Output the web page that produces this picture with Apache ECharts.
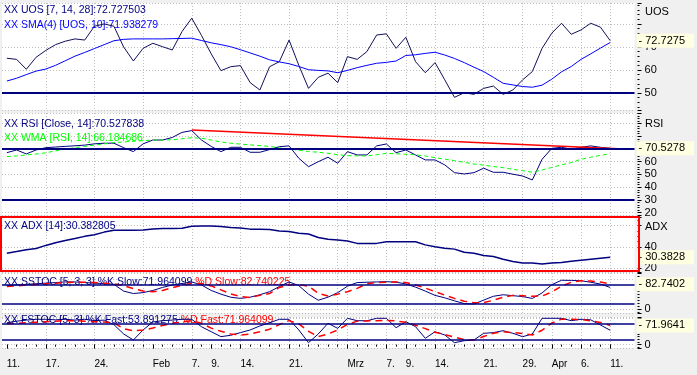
<!DOCTYPE html>
<html><head><meta charset="utf-8">
<script src="https://cdn.jsdelivr.net/npm/echarts@6/dist/echarts.min.js"></script>
<style>html,body{margin:0;padding:0;background:#f0f0f0}#c{width:697px;height:375px}</style>
</head><body><div id="c"></div><script>
const dates = ['11.01.','12.01.','13.01.','14.01.','17.01.','18.01.','19.01.','20.01.','21.01.','24.01.','25.01.','26.01.','27.01.','28.01.','31.01.','01.02.','02.02.','03.02.','04.02.','07.02.','08.02.','09.02.','10.02.','11.02.','14.02.','15.02.','16.02.','17.02.','18.02.','21.02.','22.02.','23.02.','24.02.','25.02.','28.02.','01.03.','02.03.','03.03.','04.03.','07.03.','08.03.','09.03.','10.03.','11.03.','14.03.','15.03.','16.03.','17.03.','18.03.','21.03.','22.03.','23.03.','24.03.','29.03.','30.03.','31.03.','01.04.','04.04.','05.04.','06.04.','07.04.','08.04.','11.04.'];
const padCats = [' ', '  '];
const labelIdx = [0,4,9,15,19,21,24,29,35,39,41,44,49,53,56,59,62];
const labelTxt = ['11.','17.','24.','Feb','7.','9.','14.','21.','Mrz','7.','9.','14.','21.','29.','Apr','6.','11.'];
const gridIdx = [4,9,14,19,24,29,34,35,39,41,44,49,53,56,59,62];

const uos = [65.1,64.6,60.3,65.5,68.5,71,72.5,73.5,73,79,80,79,70,63.9,69.4,71.6,70.1,68.7,76.7,82.5,75,67,59.7,61.4,61.9,54.5,51.3,61.4,63.6,73,62,52,56.8,58.6,54.5,65.8,64.6,68,75.2,75.7,69.4,74.2,63.6,58.8,63.2,55.7,48.1,50.1,49.4,52,53,49.4,51.3,55.7,59.3,69.4,76,80.3,75.5,77.4,80.3,78.6,72.727503];
const sma = [55.2,56.4,58,59.5,60.4,62,64,66,67.6,69.3,71,72.7,73.3,73.5,73.5,73.5,73.5,73.6,73.7,73.8,72.8,71.8,71,70.1,68.8,67.4,66,64.4,63.5,62.7,61.5,60.1,59.8,59.6,58.8,59.8,61,62,62.9,63.3,63.9,66.3,66.6,67.2,67.7,66.5,65,63.2,61.2,59.3,56.8,54.2,53.5,52.8,52.5,53.4,56,59.2,61.5,64.6,67,69.5,71.938279];
const rsi = [67.1,69.2,66.1,69.2,71,71.5,72,72.5,73,74,74.5,74.5,71,67.9,74,77,77,79,83,84.4,77,72,67.9,71.3,71.3,67.4,67.4,69.5,71.8,72.4,62.7,56.1,60,63.5,58.8,67.9,65.3,65.3,72.4,73.9,67.1,69.2,65.3,61.4,61.4,57.5,51.4,50.4,51.4,54.9,51.7,51.7,50.2,48.8,45.7,61.9,70.5,71.3,69.8,71.3,72.4,71.3,70.527838];
const wma = [64,64.5,65.3,66,67,68.5,69.8,71,72,73,74,75,75.5,76,76.5,77,77,77.2,78,78.8,78.4,77,75.5,74.5,73.8,73.2,72.6,72,70.8,70,69,68,67.4,66.6,65.5,64.7,64.6,64.5,65.5,66.6,66.2,65.8,65.4,64.5,63.2,62,60.8,59.5,58.2,57.3,56.2,55.3,54,53,51.7,53.5,55.5,57.5,59.3,61.9,63.5,65,66.184686];
const rsiTrendStart = [19, 84.9];
const rsiTrendEnd = [64, 69.8];
const adx = [34.2,35.8,37.5,38.6,41.5,44,46.2,48,50,51.6,54,55.7,55.7,55.8,56,57,57.3,57.4,57.6,59.5,59.7,59.7,59.2,58.3,57.8,56.8,56.7,56.5,55,54.6,53,52.2,49,47.2,46.6,45.6,43.4,43.4,43.4,44.9,44.9,44.9,44.9,42,40.3,38.8,38,35,34.2,32,31,28.5,26.4,25,24.9,24,25,25.5,26.5,27.5,28.5,29.5,30.382805];
const kSlow = [78,80,82,84,86,88,90,90,88,86,85,82,60,52,55,62,72,80,85,90,80,62,50,40,36,40,48,58,75,90,78,50,30,40,55,76,88,89,90,91,89,83.5,73,60,46,38,28,19,17.5,30.5,43,48,45,42,36,54,81,95.5,95,94,89,83,71.964099];
const dSlow = [75,77,80,82,84,86,88,89,89,88,86,84,78,68,60,58,62,71,79,85,85,77,64,51,42,39,46,52,72,80,81,76,53,44,50,58,69,84,88,89,90,88,80,70,58,47,36,27,22,22,30,40,46,45,43,44,57,76,89,94,93,90,82.740225];
const kFast = [82,88,92,95,95,93,95,92,95,90,92,75,40,17.5,55,85,90,92,95,95,67,48.5,30,35,45,55,70,82,95,95,55,7.3,40,80,61,98.7,89.8,89.5,98.7,98.7,63.5,86,67.3,23.8,48.5,36.2,7.3,14.8,17.5,42.5,45,52.3,42.5,29.8,40,98.7,98.7,98.7,89.8,95,93,73.6,53.891275];
const uosLevels = [50];
const rsiLevels = [70, 30];
const stochLevels = [80, 20];

const last = a => a[a.length - 1];
const cats = dates.concat(padCats);
const NAVY = '#000080', FONT = '"Liberation Sans", Arial, sans-serif';
const trend = cats.map(() => null);
trend[rsiTrendStart[0]] = rsiTrendStart[1];
trend[rsiTrendEnd[0]] = rsiTrendEnd[1];

const panels = [
  {top: 3, height: 107, min: 42.6, max: 89.1, step: 10, showMax: 70, minor: 5, val: last(uos)},
  {top: 113, height: 102, min: 18.2, max: 98.2, step: 10, showMax: 70, minor: 5, val: last(rsi)},
  {top: 217, height: 55, min: 16.5, max: 68.2, step: 20, showMax: 40, minor: 4, val: last(adx)},
  {top: 273, height: 40, min: -11.8, max: 119.3, step: 100, showMax: 0, minor: 10, val: last(dSlow)},
  {top: 317, height: 31, min: -12.6, max: 103.6, step: 100, showMax: 0, minor: 10, val: last(kSlow)}
];
const dotted = {color: '#c0c0c0', type: [1, 2], width: 1};

const grid = panels.map(p => ({left: 2, width: 638, top: p.top, height: p.height, show: true,
  backgroundColor: '#ffffff', borderWidth: 0, containLabel: false}));

const xAxis = panels.map((p, i) => ({
  gridIndex: i, type: 'category', data: cats, boundaryGap: true,
  axisLine: {show: false},
  axisTick: {show: i === 4, alignWithLabel: true, length: 2, interval: (k) => k <= 62, lineStyle: {color: '#000'}},
  axisLabel: {show: false},
  splitLine: {show: true, alignWithLabel: true, interval: (k) => gridIdx.indexOf(k) >= 0, lineStyle: dotted}
}));
xAxis.push({
  gridIndex: 4, type: 'category', data: cats, boundaryGap: true, position: 'bottom',
  axisLine: {show: false},
  axisTick: {show: true, alignWithLabel: true, length: 4, interval: (k) => labelIdx.indexOf(k) >= 0, lineStyle: {color: '#000'}},
  axisLabel: {show: true, interval: (k) => labelIdx.indexOf(k) >= 0, align: 'left', margin: 11,
    color: '#000', fontSize: 10, fontFamily: FONT,
    formatter: (v, k) => { const j = labelIdx.indexOf(k); return j >= 0 ? labelTxt[j] : ''; }},
  splitLine: {show: false}
});

const yAxis = [];
panels.forEach((p, i) => {
  yAxis.push({
    gridIndex: i, type: 'value', position: 'right', min: p.min, max: p.max,
    minInterval: p.step, maxInterval: p.step, offset: 3,
    axisLine: {show: false},
    axisTick: {show: true, length: 4, lineStyle: {color: '#000'}},
    minorTick: {show: true, splitNumber: p.minor, length: 2, lineStyle: {color: '#000'}},
    minorSplitLine: {show: false},
    axisLabel: {margin: 7, color: '#000', fontSize: 11, fontFamily: FONT, showMinLabel: false, showMaxLabel: false,
      formatter: v => (v <= p.showMax && v >= 0 && Math.abs(v - Math.round(v)) < 1e-9) ? String(v) : ''},
    splitLine: {show: true, lineStyle: dotted}
  });
  yAxis.push({
    gridIndex: i, type: 'value', position: 'right', min: p.min, max: p.max, offset: 0, z: 5,
    axisLine: {show: false}, axisTick: {show: false}, splitLine: {show: false},
    axisLabel: {customValues: [p.val], margin: 2, color: '#000', fontSize: 11, fontFamily: FONT,
      backgroundColor: '#ffffe1', padding: [2, 9, 1, 2], formatter: v => '- ' + Number(v).toFixed(4)}
  });
});

const mk = (levels, w) => ({silent: true, symbol: 'none', animation: false, label: {show: false},
  lineStyle: {color: NAVY, width: w, type: 'solid'}, data: levels.map(v => ({yAxis: v}))});
const line = (data, xi, yi, color, width, type, extra) => Object.assign({
  type: 'line', data: data, xAxisIndex: xi, yAxisIndex: yi, symbol: 'none', showSymbol: false,
  lineStyle: {color: color, width: width, type: type || 'solid'}, itemStyle: {color: color}, z: 3
}, extra || {});

const series = [
  line(uos, 0, 0, '#10105a', 1, 'solid', {markLine: mk(uosLevels, 2)}),
  line(sma, 0, 0, '#0000ff', 1),
  line(rsi, 1, 2, NAVY, 1, 'solid', {markLine: mk(rsiLevels, 2)}),
  line(wma, 1, 2, '#00ff00', 1, [4, 3]),
  line(trend, 1, 2, '#ff0000', 1.5, 'solid', {connectNulls: true}),
  line(adx, 2, 4, NAVY, 1.5),
  line(kSlow, 3, 6, NAVY, 1, 'solid', {markLine: mk(stochLevels, 1.5)}),
  line(dSlow, 3, 6, '#ff0000', 1.5, [7, 5]),
  line(kFast, 4, 8, NAVY, 1, 'solid', {markLine: mk(stochLevels, 1.5)}),
  line(kSlow, 4, 8, '#ff0000', 1.5, [7, 5])
];

const f = (s) => s + 'px ' + FONT;
const txt = (x, y, text, fill, size) => ({type: 'text', x: x, y: y, z: 1, silent: true,
  style: {text: text, fill: fill, font: f(size || 10.5), verticalAlign: 'top', align: 'left'}});
const rich = (x, y, a, b) => ({type: 'text', x: x, y: y, z: 1, silent: true,
  style: {text: '{a|' + a + '}{b|' + b + '}', font: f(10.5), verticalAlign: 'top', align: 'left',
    rich: {a: {fill: NAVY, font: f(10.5)}, b: {fill: '#ff0000', font: f(10.5)}}}});

const graphic = [
  txt(4, 5, 'XX UOS [7, 14, 28]:' + last(uos), NAVY),
  txt(4, 19.5, 'XX SMA(4) [UOS, 10]:' + last(sma), '#0000ff'),
  txt(4, 118.5, 'XX RSI [Close, 14]:' + last(rsi), NAVY),
  txt(4, 133, 'XX WMA [RSI, 14]:' + last(wma), '#00ff00'),
  txt(4, 221, 'XX ADX [14]:' + last(adx), NAVY),
  rich(4, 277, 'XX SSTOC [5, 3, 3] %K Slow:' + last(kSlow) + ' ', '%D Slow:' + last(dSlow)),
  rich(4, 315, 'XX FSTOC [5, 3] %K Fast:' + last(kFast) + ' ', '%D Fast:' + last(kSlow)),
  txt(645, 6, 'UOS', '#000', 11),
  txt(645, 118, 'RSI', '#000', 11),
  txt(645, 221, 'ADX', '#000', 11),
  {type: 'rect', z: 10, silent: true, shape: {x: 1, y: 217, width: 638, height: 54},
    style: {fill: null, stroke: '#ff0000', lineWidth: 2}}
];

const chart = echarts.init(document.getElementById('c'), null, {renderer: 'canvas'});
chart.setOption({animation: false, backgroundColor: '#f0f0f0', grid, xAxis, yAxis, series, graphic});
</script></body></html>
